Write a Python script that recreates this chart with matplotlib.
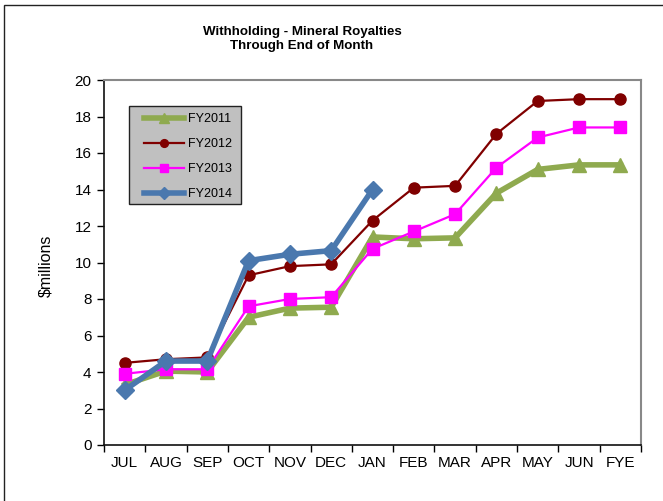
import matplotlib
matplotlib.use("Agg")
import matplotlib.pyplot as plt
from matplotlib.patches import Rectangle

plt.rcParams['font.family'] = ['Liberation Sans', 'DejaVu Sans']

months = ["JUL", "AUG", "SEP", "OCT", "NOV", "DEC", "JAN", "FEB", "MAR", "APR", "MAY", "JUN", "FYE"]

fy2011 = [3.3, 4.05, 4.0, 7.0, 7.5, 7.55, 11.4, 11.3, 11.35, 13.8, 15.1, 15.35, 15.35]
fy2012 = [4.5, 4.7, 4.8, 9.3, 9.8, 9.9, 12.3, 14.1, 14.2, 17.05, 18.85, 18.95, 18.95]
fy2013 = [3.9, 4.15, 4.15, 7.6, 8.0, 8.1, 10.75, 11.7, 12.65, 15.2, 16.85, 17.4, 17.4]
fy2014 = [3.0, 4.6, 4.6, 10.1, 10.45, 10.65, 14.0]

W, H = 663, 501
fig = plt.figure(figsize=(W / 100, H / 100), dpi=100)
ax = fig.add_axes([104 / W, 1 - 445 / H, (641 - 104) / W, (445 - 80) / H])

# outer chart frame (runs off the right/bottom edge like the screenshot)
fig.patches.append(Rectangle((4 / W, -0.1), 1.2, 1 - 5 / H + 0.1, transform=fig.transFigure,
                             fill=False, edgecolor="#222222", linewidth=1.0))

x = list(range(len(months)))
ax.plot(x, fy2011, color="#8FAA4F", lw=4, marker="^", ms=10, label="FY2011")
ax.plot(x, fy2012, color="#800000", lw=1.6, marker="o", ms=8, label="FY2012")
ax.plot(x, fy2013, color="#FF00FF", lw=1.6, marker="s", ms=8, label="FY2013")
ax.plot(x[:len(fy2014)], fy2014, color="#4A78AE", lw=4, marker="D", ms=9, label="FY2014")

ax.set_xlim(-0.5, 12.5)
ax.set_ylim(0, 20)
ax.set_yticks(range(0, 21, 2))
ax.set_xticks([i + 0.5 for i in range(-1, 13)], minor=False)
ax.set_xticklabels([])
ax.set_xticks(x, minor=True)
ax.set_xticklabels(months, minor=True)
ax.tick_params(axis="x", which="minor", length=0, pad=8, labelsize=11)
ax.tick_params(axis="x", which="major", direction="out", length=5, width=1)
ax.tick_params(axis="y", direction="out", length=5, width=1, labelsize=11, pad=4)

for side in ["top", "right"]:
    ax.spines[side].set_color("#888888")
    ax.spines[side].set_linewidth(1.5)
for side in ["left", "bottom"]:
    ax.spines[side].set_color("#111111")
    ax.spines[side].set_linewidth(1.2)

ax.set_ylabel("$millions", fontsize=11.5)
ax.yaxis.set_label_coords(-0.095, 0.49)

fig.text(302 / W, 1 - 39 / H, "Withholding - Mineral Royalties\nThrough End of Month",
         ha="center", va="center", fontsize=9.6, fontweight="bold", linespacing=1.25)

# grey legend box drawn separately so the padding matches the original
ax.add_patch(Rectangle((25 / 537, 1 - 124 / 365), 112 / 537, 98 / 365, transform=ax.transAxes,
                       facecolor="#C0C0C0", edgecolor="#222222", linewidth=1.0, zorder=4))
leg = ax.legend(loc="upper left", bbox_to_anchor=(40 / 537, 1 - 33 / 365), borderaxespad=0,
                borderpad=0, fontsize=9, frameon=False, handlelength=3.2, labelspacing=1.05,
                markerscale=0.7, handletextpad=0.35)
leg.set_zorder(5)

fig.savefig("out.png", dpi=100)
